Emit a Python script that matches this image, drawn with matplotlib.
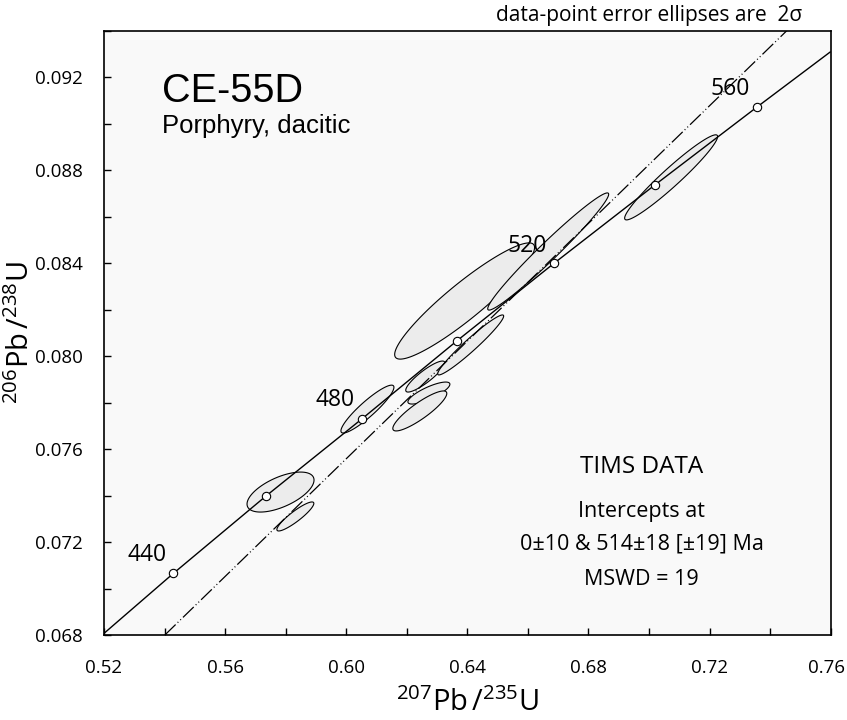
import numpy as np
import matplotlib
matplotlib.use("Agg")
import matplotlib.pyplot as plt
import matplotlib.transforms as mtransforms
from matplotlib.ticker import MultipleLocator, FormatStrFormatter

plt.rcParams['font.family'] = ['Open Sans', 'DejaVu Sans']
plt.rcParams['mathtext.fontset'] = 'custom'
plt.rcParams['mathtext.rm'] = 'Open Sans'
plt.rcParams['mathtext.it'] = 'Open Sans:italic'
plt.rcParams['mathtext.bf'] = 'Open Sans:bold'

# ---- data ----
# concordia curve points (207Pb/235U, 206Pb/238U) incl. axis-edge ends
conc_x = [0.5200, 0.5429, 0.5735, 0.6051, 0.6365, 0.6686, 0.7019, 0.7356, 0.7600]
conc_y = [0.06807, 0.07065, 0.07398, 0.07729, 0.08065, 0.08399, 0.08736, 0.09071, 0.09310]
# age markers (Ma) on concordia
age_ma = [440, 460, 480, 500, 520, 540, 560]
age_x = [0.5429, 0.5735, 0.6051, 0.6365, 0.6686, 0.7019, 0.7356]
age_y = [0.07065, 0.07398, 0.07729, 0.08065, 0.08399, 0.08736, 0.09071]
# labelled ages and label positions
label_ages = ['440', '480', '520', '560']
label_x = [0.5342, 0.5963, 0.6598, 0.7267]
label_y = [0.07146, 0.07811, 0.08475, 0.09151]
# discordia (0 Ma and 514 Ma intercepts), drawn between axis edges
disc_x = [0.5401, 0.7455]
disc_y = [0.0680, 0.0940]
# error ellipses (2 sigma): centre, half-extent in x and y, error correlation
ell_cx = [0.5783, 0.5832, 0.6070, 0.6261, 0.6273, 0.6243, 0.6411, 0.6391, 0.6667, 0.7073]
ell_cy = [0.07415, 0.07310, 0.07772, 0.07912, 0.07841, 0.07764, 0.08048, 0.08237, 0.08450, 0.08769]
ell_hx = [0.01106, 0.00610, 0.00875, 0.00644, 0.00693, 0.00891, 0.01089, 0.02310, 0.01997, 0.01535]
ell_hy = [0.00086, 0.000624, 0.00103, 0.000667, 0.000473, 0.00086, 0.00129, 0.00250, 0.00252, 0.00183]
ell_rho = [0.60, 0.90, 0.91, 0.88, 0.80, 0.875, 0.963, 0.92, 0.977, 0.959]

xticks_major = [0.52, 0.56, 0.60, 0.64, 0.68, 0.72, 0.76]
yticks_major = [0.068, 0.072, 0.076, 0.080, 0.084, 0.088, 0.092]

# ---- figure ----
fig = plt.figure(figsize=(8.47, 7.2), dpi=100)
fig.patch.set_facecolor('white')
ax = fig.add_axes([104/847, 85/720, (830.7-104)/847, (635-30.7)/720])
ax.set_facecolor('#f9f9f9')
ax.set_xlim(0.52, 0.76)
ax.set_ylim(0.068, 0.094)

t = np.linspace(0, 2*np.pi, 361)
for cx, cy, hx, hy, r in zip(ell_cx, ell_cy, ell_hx, ell_hy, ell_rho):
    ex = cx + hx*np.cos(t)
    ey = cy + hy*(r*np.cos(t) + np.sqrt(1 - r*r)*np.sin(t))
    ax.fill(ex, ey, facecolor='#ececec', edgecolor='black', linewidth=0.8, zorder=2)

ax.plot(conc_x, conc_y, color='black', linewidth=1.0, zorder=3, solid_capstyle='butt')
ax.plot(disc_x, disc_y, color='black', linewidth=0.9, zorder=3,
        linestyle=(0, (12, 2.2, 0.8, 2.2, 0.8, 2.2)))
ax.plot(age_x, age_y, linestyle='none', marker='o', markersize=6,
        markerfacecolor='white', markeredgecolor='black', markeredgewidth=0.8, zorder=4)

for s, x, y in zip(label_ages, label_x, label_y):
    ax.text(x, y, s, fontsize=16.5, ha='center', va='center', zorder=5)

ax.xaxis.set_major_locator(plt.FixedLocator(xticks_major))
ax.xaxis.set_minor_locator(MultipleLocator(0.02))
ax.yaxis.set_major_locator(plt.FixedLocator(yticks_major))
ax.yaxis.set_minor_locator(MultipleLocator(0.002))
ax.xaxis.set_major_formatter(FormatStrFormatter('%.2f'))
ax.yaxis.set_major_formatter(FormatStrFormatter('%.3f'))
ax.tick_params(which='both', direction='in', length=5, width=1.0,
               top=False, right=False, labelsize=13.5)
ax.tick_params(axis='x', which='major', pad=17)
ax.tick_params(axis='y', which='major', pad=15.5)
for sp in ax.spines.values():
    sp.set_linewidth(1.2)

# keep the last x tick label inside the figure
fig.canvas.draw()
last = ax.get_xticklabels()[-1]
last.set_transform(last.get_transform() +
                   mtransforms.ScaledTranslation(-4/100, 0, fig.dpi_scale_trans))

# titles
ax.text(0.0797, 0.882, 'CE-55D', transform=ax.transAxes, fontsize=28.5,
        family=['Liberation Sans'], ha='left', va='baseline')
ax.text(0.0797, 0.8307, 'Porphyry, dacitic', transform=ax.transAxes, fontsize=18.5,
        family=['Liberation Sans'], ha='left', va='baseline')

ax.text(0.960, 1.016, 'data-point error ellipses are  2σ', transform=ax.transAxes,
        fontsize=15, ha='right', va='baseline')

ax.text(0.740, 0.268, 'TIMS DATA', transform=ax.transAxes, fontsize=17.5,
        ha='center', va='baseline')
ax.text(0.740, 0.196, 'Intercepts at', transform=ax.transAxes, fontsize=15.5,
        ha='center', va='baseline')
ax.text(0.740, 0.1407, '0±10 & 514±18 [±19] Ma', transform=ax.transAxes, fontsize=15.5,
        ha='center', va='baseline')
ax.text(0.740, 0.0827, 'MSWD = 19', transform=ax.transAxes, fontsize=15.5,
        ha='center', va='baseline')

# axis labels
fig.text(467/847, 9/720, r'$^{207}$Pb$\,/^{235}$U', fontsize=21, ha='center', va='baseline')
fig.text(21/847, (720-333)/720, r'$^{206}$Pb$\,/^{238}$U', fontsize=21, ha='center',
         va='center', rotation=90)

fig.savefig('out.png', dpi=100)
